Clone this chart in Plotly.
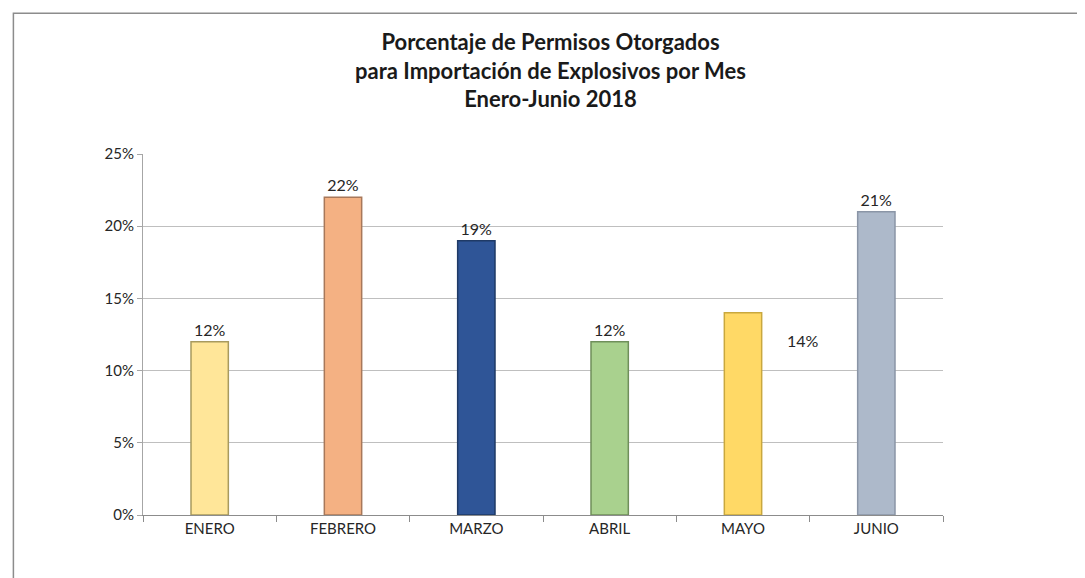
import plotly.graph_objects as go

months = ["ENERO", "FEBRERO", "MARZO", "ABRIL", "MAYO", "JUNIO"]
shares = [0.12, 0.22, 0.19, 0.12, 0.14, 0.21]
bar_colors = ["#FFE699", "#F4B183", "#2F5597", "#A9D18E", "#FFD966", "#ADB9CA"]
edge_colors = ["#A89A5E", "#A8785A", "#1F3A66", "#6F8F5A", "#C9A83E", "#8A95A6"]
tick_vals = [0, 0.05, 0.10, 0.15, 0.20, 0.25]
tick_text = ["0%", "5%", "10%", "15%", "20%", "25%"]

# Mayo's label sits beside the bar in the original, so it is drawn separately
bar_text = [f"{v:.0%}" if m != "MAYO" else "" for m, v in zip(months, shares)]

fig = go.Figure()
fig.add_trace(go.Bar(
    x=months, y=shares,
    marker=dict(color=bar_colors, line=dict(color=edge_colors, width=1.5)),
    text=bar_text, textposition="outside", cliponaxis=False,
    textfont=dict(family="Lato", size=16, color="#262626"),
    width=0.28,
))

fig.add_annotation(
    x="MAYO", y=shares[4], text=f"{shares[4]:.0%}", showarrow=False,
    xshift=60, yshift=-28,
    font=dict(family="Lato", size=16, color="#262626"),
)

fig.update_layout(
    title=dict(
        text="<b>Porcentaje de Permisos Otorgados<br>para Importación de Explosivos por Mes<br>Enero-Junio 2018</b>",
        x=0.5, xanchor="center", y=0.927, yanchor="top",
        font=dict(family="Lato", size=22, color="#1a1a1a"),
    ),
    width=1085, height=578,
    margin=dict(l=135, r=150, t=146, b=71),
    paper_bgcolor="white", plot_bgcolor="white",
    showlegend=False,
    xaxis=dict(
        showline=True, linecolor="#8c8c8c", ticks="outside", tickcolor="#8c8c8c",
        tickson="boundaries", ticklen=6,
        tickfont=dict(family="Lato", size=15, color="#262626"),
    ),
    yaxis=dict(
        range=[0, 0.25], tickvals=tick_vals, ticktext=tick_text,
        showline=True, linecolor="#a6a6a6", ticks="outside", tickcolor="#a6a6a6",
        gridcolor="#bfbfbf", gridwidth=1, zeroline=False,
        tickfont=dict(family="Lato", size=15, color="#262626"),
    ),
)

# outer chart border
fig.add_shape(
    type="rect", xref="paper", yref="paper",
    x0=-0.162, y0=-0.25, x1=1.22, y1=1.39,
    line=dict(color="#8c8c8c", width=1.5),
)

fig.write_html("out.html")
